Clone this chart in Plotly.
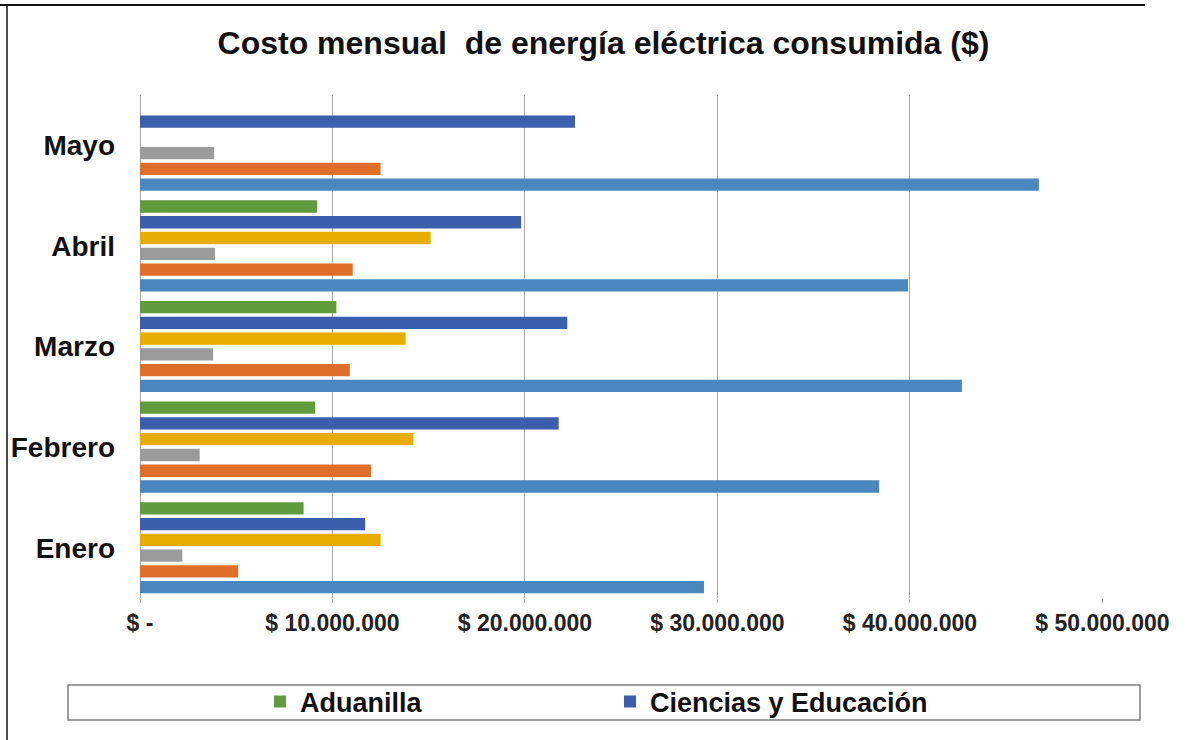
import plotly.graph_objects as go

months = ["Enero", "Febrero", "Marzo", "Abril", "Mayo"]

# series values (bottom to top within each month group)
serie_celeste = [29.3e6, 38.4e6, 42.7e6, 39.9e6, 46.7e6]
serie_naranja = [5.1e6, 12.0e6, 10.9e6, 11.05e6, 12.5e6]
serie_gris = [2.2e6, 3.1e6, 3.8e6, 3.9e6, 3.85e6]
serie_amarilla = [12.5e6, 14.2e6, 13.8e6, 15.1e6, None]
ciencias_educacion = [11.7e6, 21.75e6, 22.2e6, 19.8e6, 22.6e6]
aduanilla = [8.5e6, 9.1e6, 10.2e6, 9.2e6, None]

tick_vals = [0, 10e6, 20e6, 30e6, 40e6, 50e6]
tick_text = ["$ -", "$ 10.000.000", "$ 20.000.000", "$ 30.000.000", "$ 40.000.000", "$ 50.000.000"]

series = [
    ("Serie 1", serie_celeste, "#4A87BF", False),
    ("Serie 2", serie_naranja, "#DE6E2A", False),
    ("Serie 3", serie_gris, "#9B9B9B", False),
    ("Serie 4", serie_amarilla, "#E6AC00", False),
    ("Ciencias y Educación", ciencias_educacion, "#3B5EAD", True),
    ("Aduanilla", aduanilla, "#609B3E", True),
]

fig = go.Figure()
for name, vals, color, show in series:
    fig.add_trace(go.Bar(
        y=months, x=vals, name=name, orientation="h",
        marker=dict(color=color, line=dict(width=0)),
        showlegend=show,
    ))

FONT = "Liberation Sans, Arial, sans-serif"

W, H = 1195, 740
L, R, T, B = 140, 92, 95, 142
pw, ph = W - L - R, H - T - B

def px(x):
    return (x - L) / pw

def py(y):
    return (H - B - y) / ph

fig.update_layout(
    width=W, height=H,
    margin=dict(l=L, r=R, t=T, b=B),
    paper_bgcolor="white", plot_bgcolor="white",
    barmode="group", bargap=0.06, bargroupgap=0.22,
    title=dict(text="<b>Costo mensual  de energía eléctrica consumida ($)</b>",
               x=0.505, xanchor="center", y=1 - 43 / H, yanchor="middle",
               font=dict(family=FONT, size=32, color="#111111")),
    font=dict(family=FONT, color="#111111"),
    xaxis=dict(
        range=[0, 50.03e6], tickvals=tick_vals, ticktext=tick_text,
        showgrid=True, gridcolor="#A8A8A8", gridwidth=1.3,
        zeroline=True, zerolinecolor="#A8A8A8", zerolinewidth=1.3,
        ticks="outside", ticklen=4, tickcolor="#A8A8A8",
        tickfont=dict(family=FONT, size=23, color="#222222", weight="bold"),
        showline=False, fixedrange=True,
    ),
    yaxis=dict(
        categoryorder="array", categoryarray=months,
        showgrid=False, zeroline=False, showline=False, ticks="",
        ticklabelstandoff=24,
        tickfont=dict(family=FONT, size=28, color="#111111", weight="bold"),
        fixedrange=True,
    ),
    legend=dict(
        orientation="h", x=px(260), xanchor="left", y=py(702), yanchor="middle",
        traceorder="reversed",
        font=dict(family=FONT, size=27, color="#111111", weight="bold"),
        entrywidth=305, entrywidthmode="pixels",
        bgcolor="rgba(0,0,0,0)",
    ),
    shapes=[
        dict(type="rect", xref="paper", yref="paper",
             x0=px(68), x1=px(1140), y0=py(720), y1=py(685),
             line=dict(color="#7F7F7F", width=1.5), fillcolor="rgba(0,0,0,0)", layer="below"),
        dict(type="line", xref="paper", yref="paper",
             x0=px(0), x1=px(1145), y0=py(5), y1=py(5),
             line=dict(color="#111111", width=2)),
        dict(type="line", xref="paper", yref="paper",
             x0=px(7), x1=px(7), y0=py(5), y1=py(740),
             line=dict(color="#111111", width=1.5)),
    ],
)

fig.write_html("out.html", config={"displayModeBar": False},
               post_script="document.body.style.margin='0';")
